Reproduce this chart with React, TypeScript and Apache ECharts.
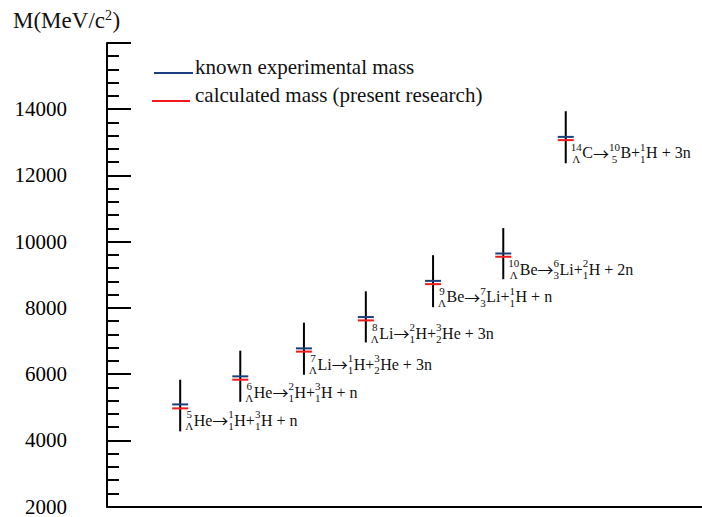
import React, { useEffect, useRef } from "react";
import * as echarts from "echarts";

const FONT = "Liberation Serif";
const ARROW_FONT = "Noto Sans CJK SC";
const BLUE = "#1b3f7c";
const RED = "#f01a1a";

// ---- data ----
const xPositions = [1.23, 2.24, 3.31, 4.35, 5.48, 6.66, 7.71];
const knownMass = [5084, 5931, 6776, 7722, 8815, 9642, 13164];
const calculatedMass = [4964, 5830, 6678, 7621, 8716, 9543, 13066];
const massLow = [4270, 5164, 5979, 6955, 8021, 8866, 12367];
const massHigh = [5830, 6707, 7552, 8499, 9591, 10409, 13940];
const decayLabels = [
  "^{5}_{Λ}He→^{1}_{1}H+^{3}_{1}H + n",
  "^{6}_{Λ}He→^{2}_{1}H+^{3}_{1}H + n",
  "^{7}_{Λ}Li→^{1}_{1}H+^{3}_{2}He + 3n",
  "^{8}_{Λ}Li→^{2}_{1}H+^{3}_{2}He + 3n",
  "^{9}_{Λ}Be→^{7}_{3}Li+^{1}_{1}H + n",
  "^{10}_{Λ}Be→^{6}_{3}Li+^{2}_{1}H + 2n",
  "^{14}_{Λ}C→^{10}_{5}B+^{1}_{1}H + 3n",
];
const yMin = 2000;
const yMax = 16000;
const yStep = 2000;
const legendNames = ["known experimental mass", "calculated mass (present research)"];
const axisTitle = "M(MeV/c^{2})";

// ---- text layout helpers ----
let measureCtx: CanvasRenderingContext2D | null = null;
function textWidth(text: string, size: number, family: string = FONT): number {
  if (!measureCtx) {
    const c = document.createElement("canvas");
    measureCtx = c.getContext("2d");
  }
  if (!measureCtx) return text.length * size * 0.5;
  measureCtx.font = `${size}px "${family}"`;
  return measureCtx.measureText(text).width;
}

type Piece = { text: string; dx: number; dy: number; size: number; align: string; family: string };

function layoutMarkup(s: string, mainSize: number, scriptSize: number, supDy: number, subDy: number): Piece[] {
  const pieces: Piece[] = [];
  const re = /\^\{([^}]*)\}(?:_\{([^}]*)\})?/g;
  let x = 0;
  let last = 0;
  let m: RegExpExecArray | null;
  const pushRun = (t: string, family: string) => {
    if (!t) return;
    pieces.push({ text: t, dx: x, dy: 0, size: mainSize, align: "left", family });
    x += textWidth(t, mainSize, family);
  };
  const pushPlain = (t: string) => {
    const parts = t.split("→");
    parts.forEach((part, i) => {
      if (i > 0) pushRun("→", ARROW_FONT);
      pushRun(part, FONT);
    });
  };
  while ((m = re.exec(s)) !== null) {
    pushPlain(s.slice(last, m.index));
    const sup = m[1];
    const sub = m[2];
    const wSup = textWidth(sup, scriptSize);
    const wSub = sub ? textWidth(sub, scriptSize) : 0;
    const w = Math.max(wSup, wSub);
    pieces.push({ text: sup, dx: x + w / 2, dy: supDy, size: scriptSize, align: "center", family: FONT });
    if (sub) pieces.push({ text: sub, dx: x + w / 2, dy: subDy, size: scriptSize, align: "center", family: FONT });
    x += w + 0.5;
    last = re.lastIndex;
  }
  pushPlain(s.slice(last));
  return pieces;
}

function textEl(p: Piece, x0: number, y0: number) {
  return {
    type: "text",
    x: x0 + p.dx,
    y: y0 + p.dy,
    silent: true,
    style: {
      text: p.text,
      fontSize: p.size,
      fontFamily: p.family,
      fill: "#111",
      textAlign: p.align,
      textVerticalAlign: "middle",
      align: p.align,
      verticalAlign: "middle",
    },
  };
}

export default function App() {
  const ref = useRef<HTMLDivElement>(null);

  useEffect(() => {
    if (!ref.current) return;
    const chart = echarts.init(ref.current, undefined, { renderer: "svg" });

    const data = xPositions.map((x, i) => [x, knownMass[i], calculatedMass[i], massLow[i], massHigh[i]]);
    const labelPieces = decayLabels.map((s) => layoutMarkup(s, 16, 11, -6, 6));

    const titlePieces = layoutMarkup(axisTitle, 23, 14, -5, 0);

    const option: any = {
      animation: false,
      textStyle: { fontFamily: FONT },
      grid: { left: 107, right: 0, top: 43, bottom: 6, containLabel: false },
      xAxis: {
        type: "value",
        min: 0,
        max: 10,
        axisLine: { show: true, onZero: false, lineStyle: { color: "#000", width: 2 } },
        axisTick: { show: false },
        axisLabel: { show: false },
        splitLine: { show: false },
      },
      yAxis: {
        type: "value",
        min: yMin,
        max: yMax,
        interval: yStep,
        axisLine: { show: true, onZero: false, lineStyle: { color: "#000", width: 2 } },
        axisTick: { show: true, inside: true, length: 24, lineStyle: { color: "#000", width: 2 } },
        minorTick: { show: true, splitNumber: 5, length: 12, lineStyle: { color: "#000", width: 2 } },
        axisLabel: {
          margin: 40,
          fontSize: 21,
          fontFamily: FONT,
          color: "#000",
          formatter: (v: number) => (v >= yMax ? "" : String(v)),
        },
        splitLine: { show: false },
        minorSplitLine: { show: false },
      },
      graphic: [
        ...titlePieces.map((p) => textEl(p, 13, 20)),
        {
          type: "line",
          shape: { x1: 154, y1: 73, x2: 193, y2: 73 },
          style: { stroke: BLUE, lineWidth: 2 },
          silent: true,
        },
        {
          type: "text",
          x: 195,
          y: 67,
          silent: true,
          style: { text: legendNames[0], fontSize: 21, fontFamily: FONT, fill: "#111", textVerticalAlign: "middle", verticalAlign: "middle" },
        },
        {
          type: "line",
          shape: { x1: 152, y1: 101, x2: 190, y2: 101 },
          style: { stroke: RED, lineWidth: 2 },
          silent: true,
        },
        {
          type: "text",
          x: 195,
          y: 95,
          silent: true,
          style: { text: legendNames[1], fontSize: 21, fontFamily: FONT, fill: "#111", textVerticalAlign: "middle", verticalAlign: "middle" },
        },
      ],
      series: [
        {
          type: "custom",
          data,
          encode: { x: 0, y: [1, 2, 3, 4] },
          clip: false,
          renderItem: (params: any, api: any) => {
            const x = api.value(0);
            const pk = api.coord([x, api.value(1)]);
            const pc = api.coord([x, api.value(2)]);
            const pl = api.coord([x, api.value(3)]);
            const ph = api.coord([x, api.value(4)]);
            const half = 8;
            const pieces = labelPieces[params.dataIndex] || [];
            const lx = pk[0] + 5;
            const ly = pk[1] + 16;
            return {
              type: "group",
              children: [
                {
                  type: "line",
                  shape: { x1: pl[0], y1: pl[1], x2: ph[0], y2: ph[1] },
                  style: { stroke: "#000", lineWidth: 2 },
                },
                {
                  type: "line",
                  shape: { x1: pk[0] - half, y1: pk[1], x2: pk[0] + half, y2: pk[1] },
                  style: { stroke: BLUE, lineWidth: 2 },
                },
                {
                  type: "line",
                  shape: { x1: pc[0] - half, y1: pc[1], x2: pc[0] + half, y2: pc[1] },
                  style: { stroke: RED, lineWidth: 2 },
                },
                ...pieces.map((p) => textEl(p, lx, ly)),
              ],
            };
          },
        },
      ],
    };

    chart.setOption(option);
    return () => chart.dispose();
  }, []);

  return (
    <div
      ref={ref}
      style={{ position: "fixed", left: 0, top: 0, width: 702, height: 517, background: "#fff" }}
    />
  );
}
